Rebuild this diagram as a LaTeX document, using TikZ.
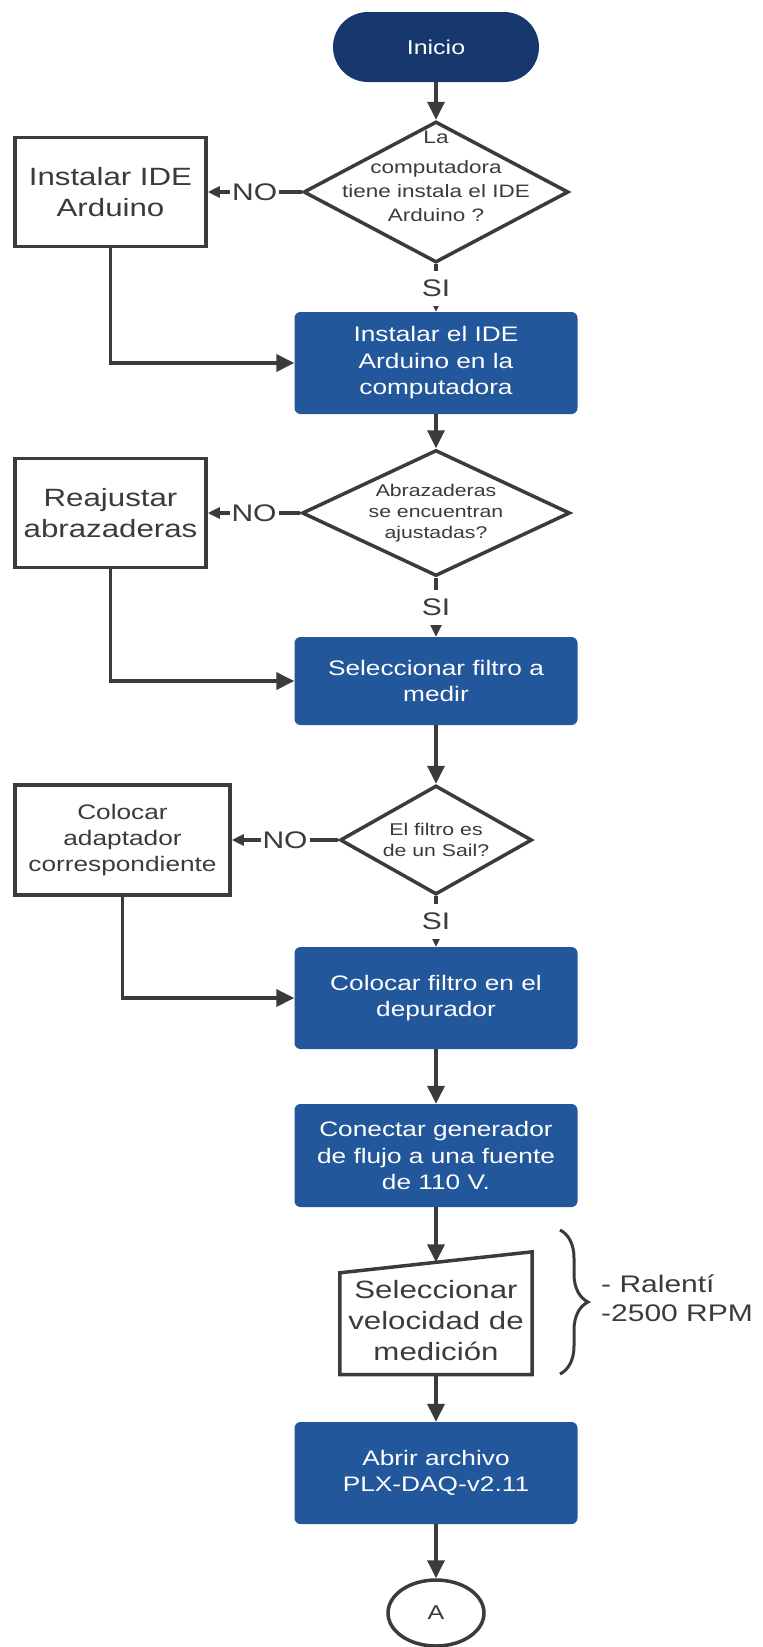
\documentclass[tikz,border=0pt]{standalone}
\usepackage{fontspec}
\setmainfont{Liberation Sans}[FakeStretch=1.25]
\usetikzlibrary{arrows.meta,shapes.geometric,decorations.pathreplacing}
\definecolor{azulinicio}{HTML}{16386C}
\definecolor{azulpaso}{HTML}{23579B}
\definecolor{gris}{HTML}{3B3B3B}
\begin{document}
\begin{tikzpicture}[x=1pt,y=-1pt,
    inicio/.style={rectangle, rounded corners=35pt, fill=azulinicio, text=white, minimum width=206pt, minimum height=70pt, font=\fontsize{20}{24}\selectfont},
    paso/.style={rectangle, rounded corners=6pt, fill=azulpaso, text=white, minimum width=283pt, minimum height=102pt, align=center, font=\fontsize{21}{26.5}\selectfont},
    caja/.style={rectangle, draw=gris, line width=3.5pt, fill=white, minimum width=191pt, minimum height=109pt, align=center, font=\fontsize{25}{31}\selectfont},
    decision/.style={diamond, draw=gris, line width=3.5pt, fill=white, inner sep=0pt},
    textodec/.style={text=gris, align=center},
    etiq/.style={fill=white, text=gris, inner xsep=2pt, inner ysep=9pt, font=\fontsize{24}{24}\selectfont},
    flecha/.style={draw=gris, line width=3.5pt, -{Triangle[length=18pt,width=17pt]}},
    flechita/.style={draw=gris, line width=3.5pt, -{Triangle[length=12pt,width=11pt]}}]
  \useasboundingbox (0,0) rectangle (763,1647);
  \node[inicio] (ini) at (436,47) {Inicio};
  \node[decision, minimum width=265pt, minimum height=141pt, label={[textodec, yshift=16pt, font=\fontsize{18}{24}\selectfont]center:{La\\[6pt]computadora\\tiene instala el IDE\\Arduino ?}}] (dec1) at (436,192) {};
  \node[caja, text=gris] (noide) at (110.5,192) {Instalar IDE\\Arduino};
  \node[paso] (instide) at (436,363) {Instalar el IDE\\Arduino en la\\computadora};
  \node[decision, minimum width=268pt, minimum height=126pt, label={[textodec, font=\fontsize{17}{21}\selectfont]center:{Abrazaderas\\se encuentran\\ajustadas?}}] (dec2) at (436,513) {};
  \node[caja, text=gris] (reaj) at (110.5,513) {Reajustar\\abrazaderas};
  \node[paso, minimum height=88pt] (selfil) at (436,681) {Seleccionar filtro a\\medir};
  \node[decision, minimum width=192pt, minimum height=109pt, label={[textodec, font=\fontsize{17}{21}\selectfont]center:{El filtro es\\de un Sail?}}] (dec3) at (436,840) {};
  \node[caja, text=gris, minimum width=215pt, minimum height=110pt, font=\fontsize{21}{26}\selectfont] (adap) at (122.5,840) {Colocar\\adaptador\\correspondiente};
  \node[paso] (colfil) at (436,998) {Colocar filtro en el\\depurador};
  \node[paso, minimum height=103pt] (congen) at (436,1155.5) {Conectar generador\\de flujo a una fuente\\de 110 V.};
  \node[rectangle, text=gris, minimum width=192pt, minimum height=107pt, align=center, font=\fontsize{25}{31}\selectfont] (selvel) at (436,1321) {Seleccionar\\velocidad de\\medición};
  \draw[gris, line width=3.5pt, line join=miter] (selvel.south west) -- (selvel.south east) -- ([yshift=15.5pt]selvel.north east) -- ([yshift=-5.5pt]selvel.north west) -- cycle;
  \coordinate (selent) at ([yshift=5pt]selvel.north);
  \node[text=gris, anchor=west, align=left, inner sep=0pt, font=\fontsize{24}{29}\selectfont] (rpm) at (601,1298) {- Ralentí\\-2500 RPM};
  \draw[gris, line width=3pt, decorate, decoration={brace, amplitude=28pt}] (560,1230) -- (560,1374);
  \node[paso] (abrir) at (436,1473) {Abrir archivo\\PLX-DAQ-v2.11};
  \node[ellipse, draw=gris, line width=3.5pt, fill=white, text=gris, minimum width=96pt, minimum height=66pt, font=\fontsize{20}{24}\selectfont] (conA) at (436,1613) {A};
  \draw[flecha] (ini) -- (dec1);
  \draw[flechita] (dec1) -- node[etiq]{NO} (noide);
  \draw[flechita] (dec1) -- node[etiq]{SI} (instide);
  \draw[flecha] (noide.south) |- (instide.west);
  \draw[flecha] (instide) -- (dec2);
  \draw[flechita] (dec2) -- node[etiq]{NO} (reaj);
  \draw[flechita] (dec2) -- node[etiq]{SI} (selfil);
  \draw[flecha] (reaj.south) |- (selfil.west);
  \draw[flecha] (selfil) -- (dec3);
  \draw[flechita] (dec3) -- node[etiq]{NO} (adap);
  \draw[flechita] (dec3) -- node[etiq]{SI} (colfil);
  \draw[flecha] (adap.south) |- (colfil.west);
  \draw[flecha] (colfil) -- (congen);
  \draw[flecha] (congen) -- (selent);
  \draw[flecha] (selvel) -- (abrir);
  \draw[flecha] (abrir) -- (conA);
\end{tikzpicture}
\end{document}
